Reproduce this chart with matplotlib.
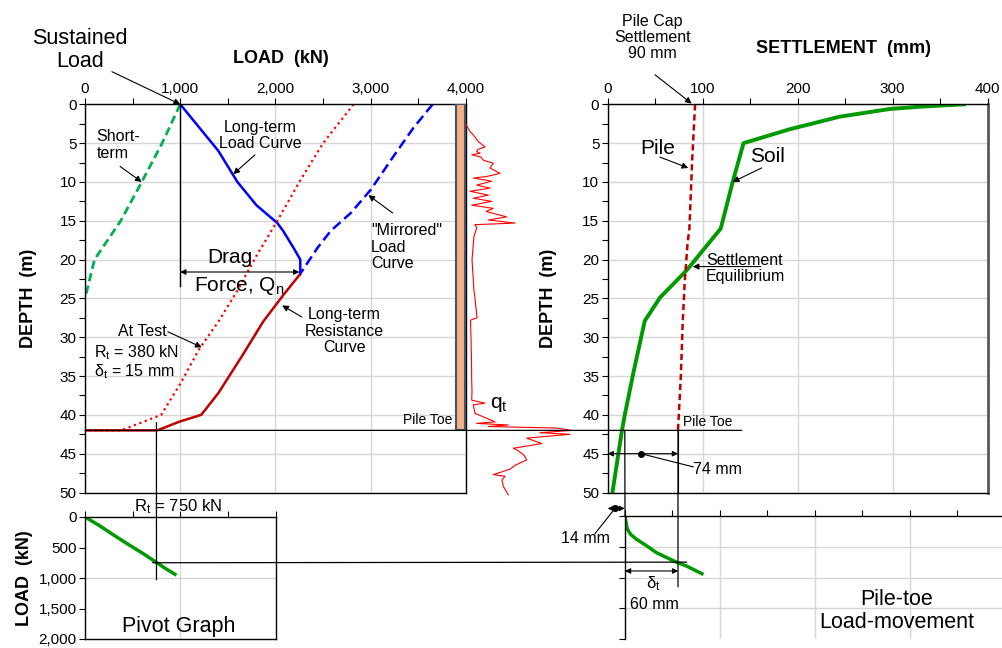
import matplotlib
matplotlib.use('Agg')
import matplotlib.pyplot as plt
from matplotlib.patches import ConnectionPatch, Rectangle
from matplotlib.ticker import MultipleLocator, FuncFormatter, NullFormatter
from matplotlib.transforms import blended_transform_factory

plt.rcParams['font.family'] = ['Liberation Sans', 'DejaVu Sans']
plt.rcParams['mathtext.fontset'] = 'custom'
plt.rcParams['mathtext.rm'] = 'Liberation Sans'
plt.rcParams['mathtext.it'] = 'Liberation Sans:italic'
plt.rcParams['mathtext.bf'] = 'Liberation Sans:bold'

# ---- load vs depth (kN, m) ----
short_load = [1000, 810, 596, 375, 100, 0]
short_depth = [0, 5, 10, 15, 20, 25]

lt_load = [1000, 1200, 1400, 1600, 1800, 2020, 2080, 2190, 2260, 2260]
lt_depth = [0, 3, 6, 10, 13, 15.3, 16.3, 18.5, 20, 21.8]

mir_load = [3650, 3450, 3250, 3000, 2790, 2580, 2440, 2250]
mir_depth = [0, 3, 6.5, 11, 14, 16.3, 18.5, 22]

test_load = [2820, 2500, 2250, 2020, 1800, 1600, 1400, 1200, 1000, 800, 380, 0]
test_depth = [0, 5, 10, 15, 19.5, 24, 28, 31.5, 36, 40, 42, 42]

res_load = [2250, 2080, 1870, 1660, 1400, 1220, 985, 760, 0]
res_depth = [22, 24.6, 28, 32.2, 37.2, 40, 40.9, 42, 42]

# ---- cone resistance qt (arbitrary units) ----
cone_depth = [2.6, 2.9, 3.5, 3.95, 4.4, 4.8, 5.5, 5.8, 6.1, 6.3, 6.5, 6.8, 7.2, 7.6, 8.2,
              8.9, 9.3, 9.5, 9.9, 10.4, 10.8, 11.2, 11.7, 12.1, 12.5, 13.0, 13.4, 13.8,
              14.5, 14.9, 15.3, 15.5, 15.9, 17, 20, 22, 24, 25, 27.5, 27.8, 30, 33,
              35.5, 37, 38.1, 38.5, 38.7, 39.8, 40.9, 41.1, 41.3, 41.5, 41.7, 42.0,
              42.3, 42.5, 43.0, 43.7, 44.3, 44.6, 45.2, 45.8, 46.5, 47.0, 47.7, 47.9,
              48.4, 49.2, 49.8, 50.3]
cone_qt = [0, 1.3, 4, 7.3, 10, 12.3, 19, 12, 10.7, 14, 6, 15, 17.3, 27.3, 24, 34, 20.7,
           7.3, 25.7, 10.7, 24, 4, 22.3, 7.3, 25.7, 5.7, 27.3, 20, 40.7, 22.3, 49, 9,
           10.7, 8, 6, 7, 8, 9, 11, 4.5, 5, 5.5, 5.7, 6, 5.7, 19, 7.3, 9, 29, 10.7,
           42.3, 22.3, 90.7, 105.7, 74, 104, 60.7, 75.7, 47.3, 52, 58, 60.7, 49, 44,
           27.3, 39, 36, 37.3, 40, 42.3]

# ---- settlement vs depth (mm, m) ----
pile_settl = [92, 89, 86, 84, 81, 79, 77, 74]
pile_depth = [0, 7, 16, 18, 23, 28, 35, 42]
soil_settl = [375, 330, 297, 244, 192, 143, 132, 119, 83, 55, 39, 27, 18, 15, 5]
soil_depth = [0, 0.3, 0.6, 1.6, 3.2, 5, 9.8, 16, 21.4, 24.9, 27.9, 34.6, 40, 42, 50]

# ---- pivot graph (load vs load) and pile-toe load-movement ----
pivot_x = [0, 150, 300, 450, 600, 750, 850, 944]
pivot_y = [0, 140, 295, 445, 590, 745, 850, 939]
toe_move = [0, 1, 2.5, 6, 12, 23, 33, 44, 54, 65, 81]
toe_load = [0, 100, 213, 300, 377, 487, 595, 677, 749, 815, 939]

SUSTAINED = 1000
NEUTRAL_LOAD = 2250
DRAG_DEPTH = 21.6
TOE_DEPTH = 42
RT = 750
TOE_SETTL = 74
SOIL_TOE = 18

W, H = 1003, 648
fig = plt.figure(figsize=(W / 100, H / 100), dpi=100)


def px_axes(x0, y0, x1, y1):
    return fig.add_axes([x0 / W, 1 - y1 / H, (x1 - x0) / W, (y1 - y0) / H])


GRID = '#D6D6D6'
thousands = FuncFormatter(lambda v, p: f'{v:,.0f}')
ARROW = dict(arrowstyle='-|>', color='black', lw=0.8, mutation_scale=9, shrinkA=0, shrinkB=0)
DARROW = dict(arrowstyle='<|-|>', color='black', lw=0.8, mutation_scale=8, shrinkA=0, shrinkB=0)


def style(ax):
    ax.tick_params(which='both', direction='out', length=4, width=0.8, labelsize=11, pad=2)
    for s in ax.spines.values():
        s.set_linewidth(1)


def arrow(ax, tip, tail, props=ARROW):
    ax.annotate('', xy=tip, xytext=tail, arrowprops=props, annotation_clip=False)


# ================= load / depth panel =================
ax1 = px_axes(85, 104.3, 466, 492.5)
ax1.set_xlim(0, 4000)
ax1.set_ylim(50, 0)
ax1.xaxis.tick_top()
ax1.xaxis.set_major_locator(MultipleLocator(1000))
ax1.xaxis.set_minor_locator(MultipleLocator(500))
ax1.xaxis.set_major_formatter(thousands)
ax1.yaxis.set_major_locator(MultipleLocator(5))
ax1.yaxis.set_minor_locator(MultipleLocator(2.5))
ax1.grid(True, which='major', color=GRID, lw=1)
ax1.set_axisbelow(True)
style(ax1)
ax1.set_ylabel('DEPTH  (m)', fontsize=13, fontweight='bold', labelpad=16)

ax1.plot(short_load, short_depth, color='#00B050', lw=2, dashes=(3, 1.6))
ax1.plot(lt_load, lt_depth, color='#0000FF', lw=1.8)
ax1.plot(mir_load, mir_depth, color='#0000FF', lw=1.8, dashes=(4, 2))
ax1.plot(test_load, test_depth, color='#FF0000', lw=1.6, dashes=(1, 1.6))
ax1.plot(res_load, res_depth, color='#C00000', lw=1.8)
ax1.add_patch(Rectangle((3900, 0), 85, TOE_DEPTH, facecolor='#F4B183',
                        edgecolor='#44546A', lw=1.5, zorder=3))
ax1.plot([SUSTAINED, SUSTAINED], [0, 23.4], color='black', lw=1)
arrow(ax1, (NEUTRAL_LOAD, DRAG_DEPTH), (SUSTAINED, DRAG_DEPTH), DARROW)

ax1.text(2058, -5.9, 'LOAD  (kN)', fontsize=13, fontweight='bold', ha='center', va='center')
ax1.text(-52, -7.0, 'Sustained\nLoad', fontsize=15.5, ha='center', va='center', linespacing=1.15)
arrow(ax1, (SUSTAINED, 0), (283, -4.2))
ax1.text(123, 5.2, 'Short-\nterm', fontsize=11.5, ha='left', va='center', linespacing=1.15)
arrow(ax1, (595, 10), (368, 8.0))
ax1.text(1841, 4.0, 'Long-term\nLoad Curve', fontsize=11.5, ha='center', va='center', linespacing=1.1)
arrow(ax1, (1557, 9.0), (1785, 6.5))
ax1.text(3003, 18.4, '"Mirrored"\nLoad\nCurve', fontsize=11.5, ha='left', va='center', linespacing=1.15)
arrow(ax1, (2975, 11.7), (3230, 14.0))
ax1.text(1520, 19.7, 'Drag', fontsize=15, ha='center', va='center')
ax1.text(1617, 23.4, r'Force, Q$_\mathrm{n}$', fontsize=15, ha='center', va='center')
ax1.text(2725, 29.2, 'Long-term\nResistance\nCurve', fontsize=11.5, ha='center', va='center', linespacing=1.15)
arrow(ax1, (2070, 25.9), (2276, 27.4))
ax1.text(600, 29.3, 'At Test', fontsize=11.5, ha='center', va='center')
arrow(ax1, (1226, 31.3), (870, 29.3))
ax1.text(90, 32.0, r'R$_\mathrm{t}$ = 380 kN', fontsize=11.5, ha='left', va='center')
ax1.text(90, 34.4, r'δ$_\mathrm{t}$ = 15 mm', fontsize=11.5, ha='left', va='center')
ax1.text(3853, 40.7, 'Pile Toe', fontsize=10, ha='right', va='center')

# ================= cone profile =================
axc = px_axes(466, 104.3, 572, 492.5)
axc.set_xlim(0, 106)
axc.set_ylim(50, 0)
axc.axis('off')
axc.plot(cone_qt, cone_depth, color='red', lw=0.8, clip_on=False)
axc.text(24, 38.7, r'q$_\mathrm{t}$', fontsize=15, ha='left', va='center')

# ================= settlement / depth panel =================
ax2 = px_axes(607.7, 104.3, 987.7, 492.5)
ax2.set_xlim(0, 400)
ax2.set_ylim(50, 0)
ax2.xaxis.tick_top()
ax2.xaxis.set_major_locator(MultipleLocator(100))
ax2.xaxis.set_minor_locator(MultipleLocator(50))
ax2.yaxis.set_major_locator(MultipleLocator(5))
ax2.yaxis.set_minor_locator(MultipleLocator(2.5))
ax2.grid(True, which='major', color=GRID, lw=1)
ax2.set_axisbelow(True)
style(ax2)
ax2.spines['right'].set_color('#595959')
ax2.spines['right'].set_linewidth(2)
ax2.set_ylabel('DEPTH  (m)', fontsize=13, fontweight='bold', labelpad=18)

ax2.plot(soil_settl, soil_depth, color='#009900', lw=2.8)
ax2.plot(pile_settl, pile_depth, color='#C00000', lw=1.8, dashes=(2.5, 1.5))

ax2.text(248, -7.2, 'SETTLEMENT  (mm)', fontsize=13, fontweight='bold', ha='center', va='center')
ax2.text(47.4, -8.6, 'Pile Cap\nSettlement\n90 mm', fontsize=11.5, ha='center', va='center', linespacing=1.1)
arrow(ax2, (88.4, -0.1), (49.8, -3.8))
ax2.text(52.4, 5.7, 'Pile', fontsize=15, ha='center', va='center')
arrow(ax2, (84.8, 8.2), (55, 6.8))
ax2.text(168, 6.7, 'Soil', fontsize=15, ha='center', va='center')
arrow(ax2, (131.6, 10.0), (162, 8.2))
ax2.text(103.5, 21.1, 'Settlement\nEquilibrium', fontsize=11.5, ha='left', va='center', linespacing=1.1)
arrow(ax2, (89.5, 20.9), (161, 20.9))
ax2.text(79.3, 40.9, 'Pile Toe', fontsize=10, ha='left', va='center')
arrow(ax2, (TOE_SETTL, 45), (0, 45), DARROW)
ax2.plot([35, 90], [45, 46.7], color='black', lw=0.8, clip_on=False)
ax2.plot([35], [45], 'o', color='black', ms=4, clip_on=False)
ax2.text(90, 47, '74 mm', fontsize=11.5, ha='left', va='center')
ax2.plot([TOE_SETTL, TOE_SETTL], [TOE_DEPTH, 50], color='black', lw=0.8)
arrow(ax2, (SOIL_TOE, 52.05), (0, 52.05), DARROW)
ax2.plot([7.7, -13.4], [52.05, 55.3], color='black', lw=0.8, clip_on=False)
ax2.plot([7.7], [52.05], 'o', color='black', ms=4, clip_on=False)
ax2.text(-23.1, 55.9, '14 mm', fontsize=11.5, ha='center', va='center')

# ================= pivot graph =================
axp = px_axes(85, 517, 275.6, 639)
axp.set_xlim(0, 2000)
axp.set_ylim(2000, 0)
axp.xaxis.tick_top()
axp.xaxis.set_major_locator(MultipleLocator(500))
axp.xaxis.set_major_formatter(NullFormatter())
axp.yaxis.set_major_locator(MultipleLocator(500))
axp.yaxis.set_major_formatter(thousands)
axp.axvline(1000, color=GRID, lw=1, zorder=0)
axp.axhline(1000, color=GRID, lw=1, zorder=0)
style(axp)
axp.set_ylabel('LOAD  (kN)', fontsize=13, fontweight='bold', labelpad=4)
axp.plot(pivot_x, pivot_y, color='#009900', lw=2.5)
axp.text(980, -164, r'R$_\mathrm{t}$ = 750 kN', fontsize=12, ha='center', va='center')
axp.text(980, 1798, 'Pivot Graph', fontsize=15.5, ha='center', va='center')

# ================= pile-toe load-movement =================
axt = px_axes(625, 516, 1003, 639)
axt.set_xlim(0, 398)
axt.set_ylim(2000, 0)
axt.xaxis.tick_top()
axt.xaxis.set_major_locator(MultipleLocator(50))
axt.xaxis.set_major_formatter(NullFormatter())
axt.yaxis.set_major_locator(MultipleLocator(500))
axt.yaxis.set_major_formatter(NullFormatter())
for v in (100, 200, 300):
    axt.axvline(v, color=GRID, lw=1, zorder=0)
for v in (500, 1000, 1500):
    axt.axhline(v, color=GRID, lw=1, zorder=0)
style(axt)
axt.spines['right'].set_visible(False)
axt.spines['bottom'].set_visible(False)
axt.plot(toe_move, toe_load, color='#009900', lw=2.5)
arrow(axt, (TOE_SETTL - SOIL_TOE, 894), (0, 894), DARROW)
axt.text(29.5, 1106, r'δ$_\mathrm{t}$', fontsize=12, ha='center', va='center')
axt.text(31, 1447, '60 mm', fontsize=11.5, ha='center', va='center')
axt.text(286, 1545, 'Pile-toe\nLoad-movement', fontsize=15.5, ha='center', va='center', linespacing=1.1)

# ================= connector lines between panels =================
line_kw = dict(color='black', lw=0.9)
fig.add_artist(ConnectionPatch((0, TOE_DEPTH), (141, TOE_DEPTH), ax1.transData, ax2.transData, **line_kw))
fig.add_artist(ConnectionPatch((RT, 41), (RT, 1030), ax1.transData, axp.transData, **line_kw))
fig.add_artist(ConnectionPatch((710, RT), (65, RT), axp.transData, axt.transData, **line_kw))
mixed = blended_transform_factory(ax2.transData, axt.transData)
fig.add_artist(ConnectionPatch((TOE_SETTL, TOE_DEPTH), (TOE_SETTL, 1150), ax2.transData, mixed, **line_kw))
fig.add_artist(ConnectionPatch((SOIL_TOE, TOE_DEPTH), (0, 0), ax2.transData, axt.transData, **line_kw))

fig.savefig('out.png', dpi=100)
